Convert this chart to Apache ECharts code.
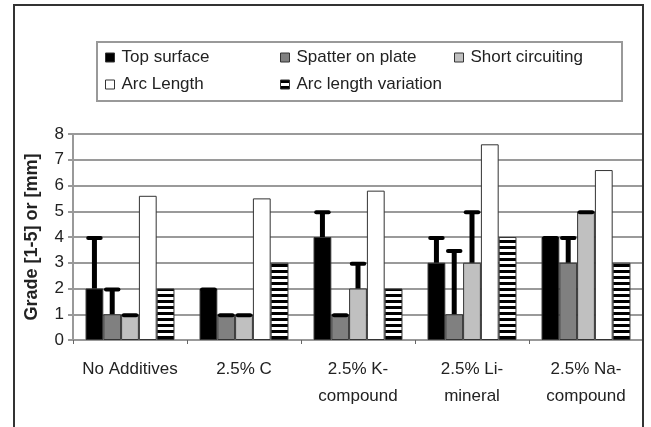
<!DOCTYPE html>
<html>
<head>
<meta charset="utf-8">
<script src="https://cdn.jsdelivr.net/npm/echarts@6/dist/echarts.min.js"></script>
<style>
html,body{margin:0;padding:0;background:#fff;}
#chart{width:651px;height:427px;}
</style>
</head>
<body>
<div id="chart"></div>
<script>
// ---- data ----
const categories = ['No Additives', '2.5% C', '2.5% K-\ncompound', '2.5% Li-\nmineral', '2.5% Na-\ncompound'];
const seriesNames = ['Top surface', 'Spatter on plate', 'Short circuiting', 'Arc Length', 'Arc length variation'];
const topSurface = [2, 2, 4, 3, 4];
const topSurfaceUpper = [4, 2, 5, 4, 4];
const spatter = [1, 1, 1, 1, 3];
const spatterUpper = [2, 1, 1, 3.5, 4];
const shortCirc = [1, 1, 2, 3, 5];
const shortCircUpper = [1, 1, 3, 5, 5];
const arcLength = [5.6, 5.5, 5.8, 7.6, 6.6];
const arcVariation = [2, 3, 2, 4, 3];
const yTicks = [0, 1, 2, 3, 4, 5, 6, 7, 8];

// ---- styling ----
const FONT = '"Liberation Sans", Arial, sans-serif';
const CAT_GAP = 0.22;
const N_BARS = 5;

// striped pattern
const pc = document.createElement('canvas');
pc.width = 6; pc.height = 6;
const pctx = pc.getContext('2d');
pctx.fillStyle = '#fff'; pctx.fillRect(0, 0, 6, 6);
pctx.fillStyle = '#000'; pctx.fillRect(0, 0, 6, 3);
const stripePattern = { image: pc, repeat: 'repeat' };

const barColors = ['#000000', '#808080', '#c0c0c0', '#ffffff', stripePattern];
const valueSets = [topSurface, spatter, shortCirc, arcLength, arcVariation];

const barSeries = seriesNames.map((name, i) => ({
  name: name,
  type: 'bar',
  data: valueSets[i],
  barGap: '0%',
  barCategoryGap: (CAT_GAP * 100) + '%',
  itemStyle: { color: barColors[i], borderColor: '#333', borderWidth: 1 },
  z: 2
}));

// error bar data: [catIdx, seriesIdx, value, upper]
const errData = [];
const errSets = [[topSurface, topSurfaceUpper], [spatter, spatterUpper], [shortCirc, shortCircUpper]];
errSets.forEach((pair, si) => {
  pair[0].forEach((v, ci) => errData.push([ci, si, v, pair[1][ci]]));
});

const errSeries = {
  type: 'custom',
  name: 'err',
  z: 5,
  encode: { x: 0, y: 3 },
  data: errData,
  renderItem: function (params, api) {
    const cat = api.value(0), si = api.value(1), v = api.value(2), u = api.value(3);
    const base = api.coord([cat, v]);
    const top = api.coord([cat, u]);
    const band = api.size([1, 0])[0];
    const bw = band * (1 - CAT_GAP) / N_BARS;
    const x = base[0] + (si - (N_BARS - 1) / 2) * bw;
    const capW = bw * 0.7;
    const children = [];
    if (u > v) {
      children.push({
        type: 'line',
        shape: { x1: x, y1: base[1], x2: x, y2: top[1] },
        style: { stroke: '#000', lineWidth: 5 }
      });
    }
    children.push({
      type: 'line',
      shape: { x1: x - capW / 2, y1: top[1] + 1, x2: x + capW / 2, y2: top[1] + 1 },
      style: { stroke: '#000', lineWidth: 4, lineCap: 'round' }
    });
    return { type: 'group', children: children };
  }
};

const legendPos = [
  { left: 105, top: 49 }, { left: 280, top: 49 }, { left: 454, top: 49 },
  { left: 105, top: 76 }, { left: 280, top: 76 }
];
const legends = seriesNames.map((n, i) => ({
  data: [n],
  left: legendPos[i].left,
  top: legendPos[i].top,
  icon: 'rect',
  itemWidth: 9,
  itemHeight: 9,
  itemGap: 0,
  padding: 0,
  selectedMode: false,
  textStyle: { fontFamily: FONT, fontSize: 17, color: '#222', padding: [0, 0, 0, 2] },
  itemStyle: { borderColor: '#333', borderWidth: 1 }
}));

const chart = echarts.init(document.getElementById('chart'), null, { renderer: 'canvas' });
chart.setOption({
  backgroundColor: '#ffffff',
  animation: false,
  graphic: [
    { type: 'rect', z: 100, shape: { x: 14, y: 5, width: 629, height: 440 },
      style: { fill: 'none', stroke: '#333', lineWidth: 2 } },
    { type: 'rect', z: 100, shape: { x: 97, y: 42, width: 525, height: 59 },
      style: { fill: 'none', stroke: '#999', lineWidth: 2 } }
  ],
  legend: legends,
  grid: { left: 73, right: 8, top: 134, bottom: 87, containLabel: false },
  xAxis: {
    type: 'category',
    data: categories,
    axisLine: { lineStyle: { color: '#999', width: 2 } },
    axisTick: { show: true, length: 4, lineStyle: { color: '#666' } },
    axisLabel: { interval: 0, fontFamily: FONT, fontSize: 17, color: '#222', lineHeight: 27, margin: 16 }
  },
  yAxis: {
    type: 'value',
    min: yTicks[0],
    max: yTicks[yTicks.length - 1],
    interval: 1,
    name: 'Grade [1-5] or [mm]',
    nameLocation: 'middle',
    nameGap: 32,
    nameTextStyle: { fontFamily: FONT, fontSize: 18, fontWeight: 'bold', color: '#222' },
    axisLine: { show: true, lineStyle: { color: '#999', width: 2 } },
    axisTick: { show: true, length: 5, lineStyle: { color: '#999', width: 2 } },
    axisLabel: { fontFamily: FONT, fontSize: 17, color: '#222', margin: 9 },
    splitLine: { lineStyle: { color: '#9a9a9a', width: 2 } }
  },
  series: barSeries.concat([errSeries])
});
</script>
</body>
</html>
